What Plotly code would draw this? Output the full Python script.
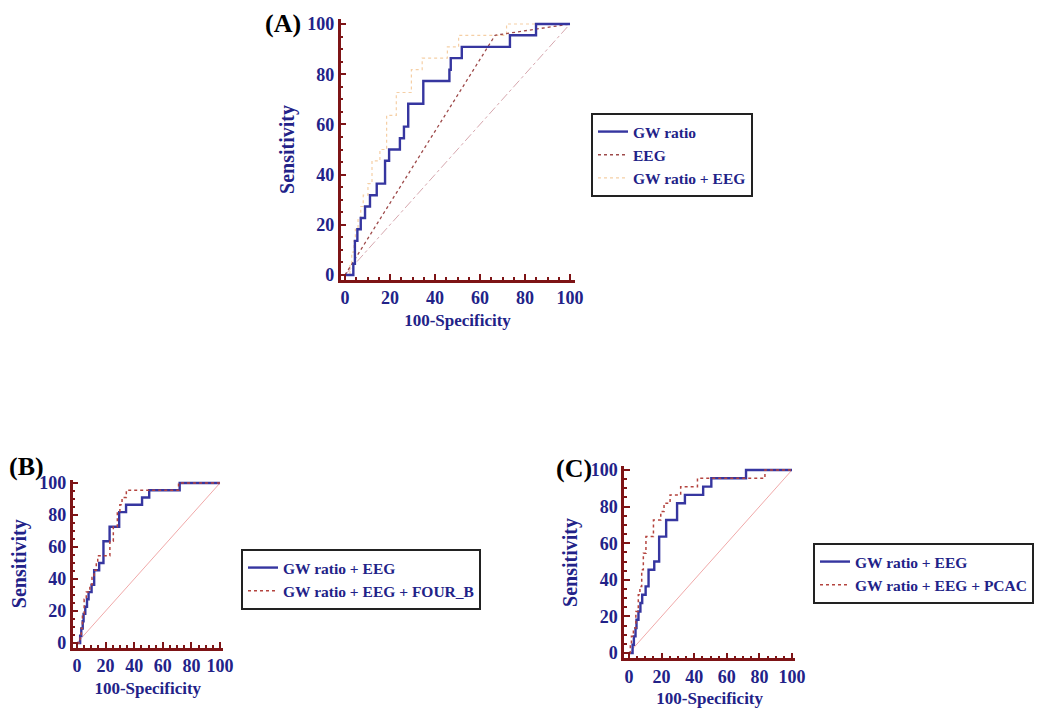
import plotly.graph_objects as go

# ---- data ----
# panel A
gw_x = [0, 3.7, 4.4, 5.5, 7.0, 8.9, 11.1, 14.1, 17.8, 19.6, 24.4, 26.2, 28.1, 34.8, 46.4, 47.0, 51.9, 73.3, 84.9, 100]
gw_y = [0, 4.5, 13.6, 18.2, 22.7, 27.3, 31.8, 36.4, 45.5, 50.0, 54.5, 59.1, 68.2, 77.3, 81.8, 86.4, 90.9, 95.5, 100, 100]

eeg_x = [0, 66.7, 100]
eeg_y = [0, 95.5, 100]

# GW ratio + EEG (same model in A, B and C)
gweeg_x = [0, 2.2, 3.0, 4.0, 4.6, 5.8, 7.0, 8.1, 10.2, 12.0, 15.5, 18.5, 22.8, 29.5, 34.3, 45.5, 50.5, 71.8, 100]
gweeg_y = [0, 4.5, 9.1, 13.6, 18.2, 22.7, 27.3, 31.8, 36.4, 45.5, 50.0, 63.6, 72.7, 81.8, 86.4, 90.9, 95.5, 100, 100]

# panel B
four_x = [0, 2.2, 3.0, 3.8, 5.0, 6.5, 9.0, 10.5, 12.0, 13.5, 14.5, 23.0, 25.4, 28.2, 30.0, 31.5, 34.5, 71.0, 100]
four_y = [0, 4.5, 9.1, 18.2, 27.3, 31.8, 36.4, 40.9, 45.5, 50.0, 54.5, 63.6, 72.7, 81.8, 86.4, 90.9, 95.5, 100, 100]

# panel C
pcac_x = [0, 0.8, 1.5, 2.7, 4.2, 5.7, 6.7, 7.8, 8.8, 10.4, 15.0, 19.5, 21.5, 25.2, 31.7, 42.0, 83.4, 100]
pcac_y = [0, 4.5, 9.1, 13.6, 22.7, 31.8, 36.4, 45.5, 54.5, 63.6, 72.7, 77.3, 81.8, 86.4, 90.9, 95.5, 100, 100]

diag = [0, 100]

# page body has an 8px margin, so the figure is sized to fit the window
OFF = 8
W, H = 1050 - OFF, 710 - OFF
SERIF = "Liberation Serif"
NAVY = "#222288"
AXRED = "#7e1416"
BLUE = "#3636a0"
DOTRED = "#b4443f"


def px(x):
    return (x - OFF) / W


def py(y):
    return 1 - (y - OFF) / H


def xdom(origin, scale, lo, hi):
    return [px(origin + lo * scale), px(origin + hi * scale)]


def ydom(origin, scale, lo, hi):
    return [py(origin - lo * scale), py(origin - hi * scale)]


def axis_style(title, title_size):
    return dict(
        showline=True, linecolor=AXRED, linewidth=2.5, mirror=False,
        ticks="inside", tickcolor=AXRED, tickwidth=2, ticklen=6,
        tick0=0, dtick=20,
        minor=dict(ticks="inside", dtick=5, ticklen=3, tickwidth=1.5, tickcolor=AXRED),
        showgrid=False, zeroline=False, automargin=False,
        tickfont=dict(family=SERIF, size=18, color=NAVY, weight="bold"),
        title=dict(text=title, font=dict(family=SERIF, size=title_size, color=NAVY, weight="bold")),
    )


fig = go.Figure()

# panel A
fig.add_trace(go.Scatter(x=diag, y=diag, mode="lines", showlegend=False,
                         line=dict(color="#d6a7ae", width=1, dash="dashdot"), xaxis="x", yaxis="y"))
fig.add_trace(go.Scatter(x=gweeg_x, y=gweeg_y, mode="lines", line_shape="hv", name="GW ratio + EEG",
                         line=dict(color="#f5cfa5", width=1.2, dash="dot"), legend="legend", xaxis="x", yaxis="y"))
fig.add_trace(go.Scatter(x=eeg_x, y=eeg_y, mode="lines", name="EEG",
                         line=dict(color="#9e4a4a", width=1.3, dash="dot"), legend="legend", xaxis="x", yaxis="y"))
fig.add_trace(go.Scatter(x=gw_x, y=gw_y, mode="lines", line_shape="hv", name="GW ratio",
                         line=dict(color=BLUE, width=2.4), legend="legend", xaxis="x", yaxis="y"))

# panel B
fig.add_trace(go.Scatter(x=diag, y=diag, mode="lines", showlegend=False,
                         line=dict(color="#f0a9a9", width=1), xaxis="x2", yaxis="y2"))
fig.add_trace(go.Scatter(x=gweeg_x, y=gweeg_y, mode="lines", line_shape="hv", name="GW ratio + EEG",
                         line=dict(color=BLUE, width=2.4), legend="legend2", xaxis="x2", yaxis="y2"))
fig.add_trace(go.Scatter(x=four_x, y=four_y, mode="lines", line_shape="hv", name="GW ratio + EEG + FOUR_B",
                         line=dict(color=DOTRED, width=1.5, dash="dot"), legend="legend2", xaxis="x2", yaxis="y2"))

# panel C
fig.add_trace(go.Scatter(x=diag, y=diag, mode="lines", showlegend=False,
                         line=dict(color="#f0a9a9", width=1), xaxis="x3", yaxis="y3"))
fig.add_trace(go.Scatter(x=gweeg_x, y=gweeg_y, mode="lines", line_shape="hv", name="GW ratio + EEG",
                         line=dict(color=BLUE, width=2.4), legend="legend3", xaxis="x3", yaxis="y3"))
fig.add_trace(go.Scatter(x=pcac_x, y=pcac_y, mode="lines", line_shape="hv", name="GW ratio + EEG + PCAC",
                         line=dict(color=DOTRED, width=1.5, dash="dot"), legend="legend3", xaxis="x3", yaxis="y3"))

# screen px of the (0,0) corner, px per unit along x, along y, low end of both ranges
panels = {
    "": (345, 2.25, 275, 2.51, -2),
    "2": (77, 1.43, 643, 1.60, -3),
    "3": (629, 1.63, 653, 1.83, -3),
}
hi = 102
layout = {}
for k, (ox, sx, oy, sy, lo) in panels.items():
    xa = axis_style("100-Specificity", 17)
    xa.update(domain=xdom(ox, sx, lo, hi), range=[lo, hi], anchor="y" + k)
    xa["title"]["standoff"] = 7
    ya = axis_style("Sensitivity", 20)
    ya.update(domain=ydom(oy, sy, lo, hi), range=[lo, hi], anchor="x" + k)
    ya["title"]["standoff"] = 8
    layout["xaxis" + k] = xa
    layout["yaxis" + k] = ya

leg_font = dict(family=SERIF, size=15.5, color=NAVY, weight="bold")
leg_common = dict(xanchor="left", yanchor="top", bgcolor="white", bordercolor="#222222",
                  borderwidth=2, font=leg_font, tracegroupgap=0)

panel_font = dict(family=SERIF, size=26, color="black", weight="bold")

fig.update_layout(
    **layout,
    width=W, height=H,
    margin=dict(l=0, r=0, t=0, b=0),
    template="none",
    paper_bgcolor="white", plot_bgcolor="white",
    legend=dict(x=px(591), y=py(113), traceorder="reversed", entrywidth=166, **leg_common),
    legend2=dict(x=px(241), y=py(549), traceorder="normal", entrywidth=236, **leg_common),
    legend3=dict(x=px(813), y=py(543), traceorder="normal", entrywidth=216, **leg_common),
    annotations=[
        dict(text="(A)", x=px(283), y=py(24), xref="paper", yref="paper", showarrow=False,
             xanchor="center", yanchor="middle", font=panel_font),
        dict(text="(B)", x=px(26), y=py(466), xref="paper", yref="paper", showarrow=False,
             xanchor="center", yanchor="middle", font=panel_font),
        dict(text="(C)", x=px(574), y=py(468), xref="paper", yref="paper", showarrow=False,
             xanchor="center", yanchor="middle", font=panel_font),
    ],
)

fig.write_html("out.html")
